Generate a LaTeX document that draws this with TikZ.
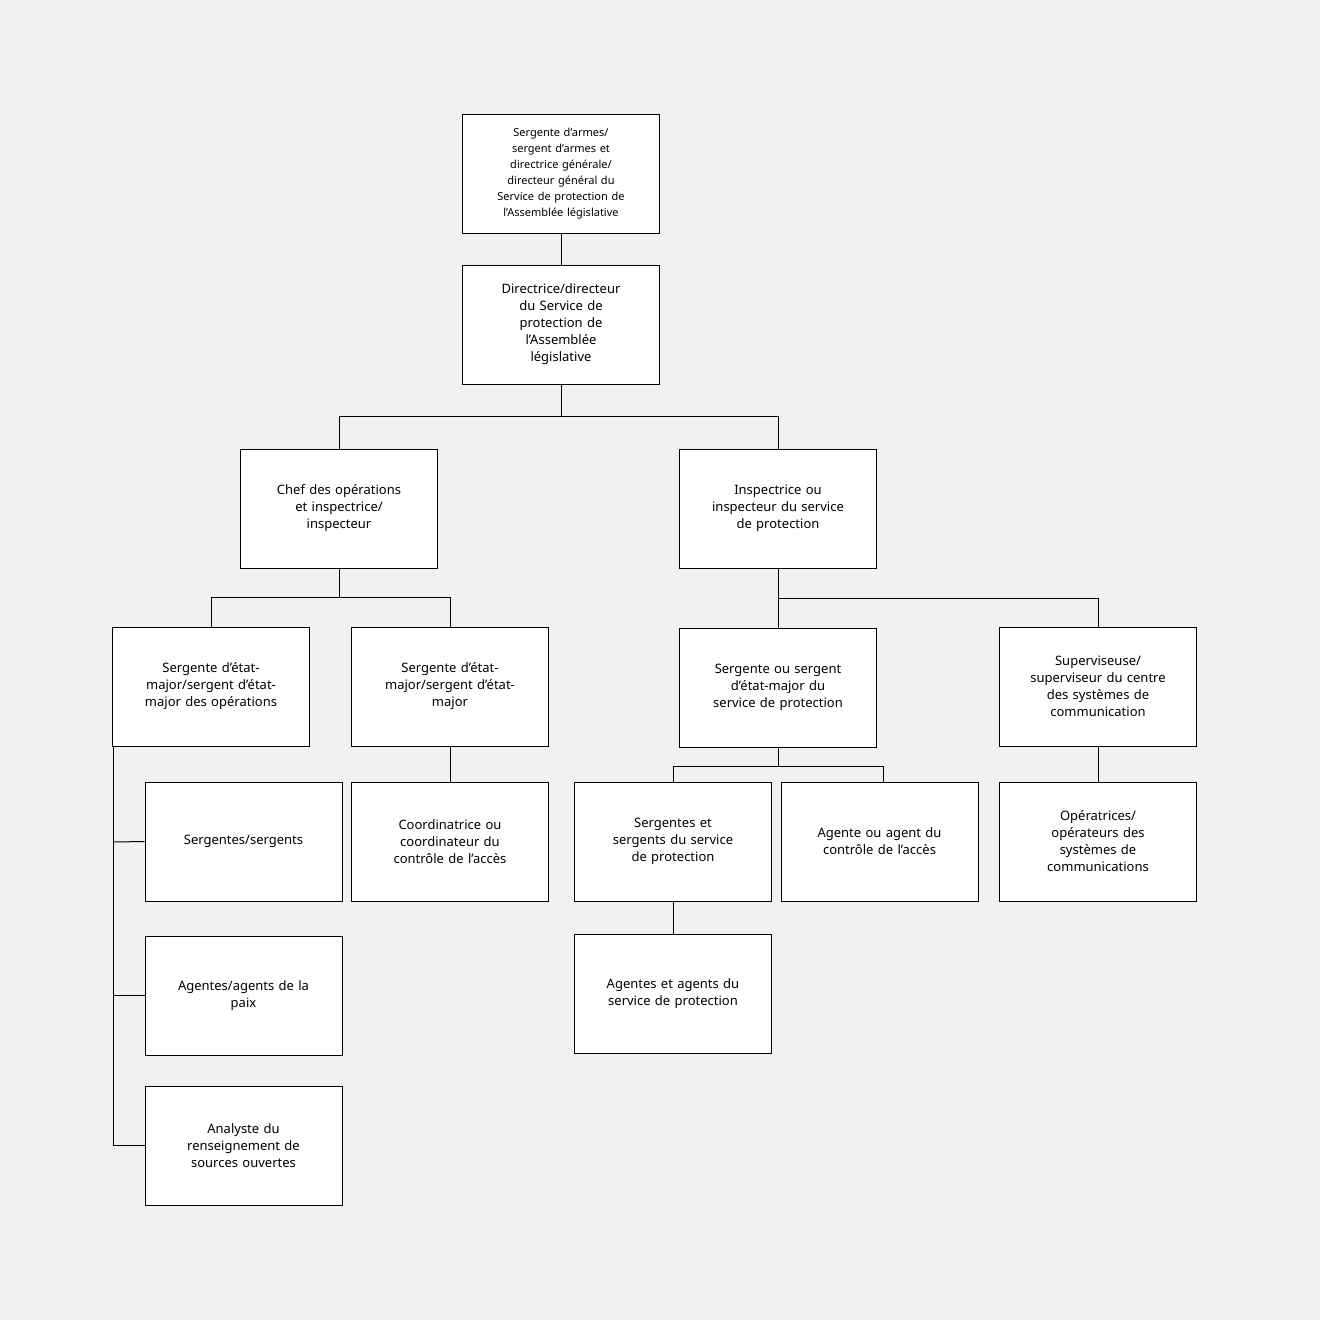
\documentclass[tikz,border=0pt]{standalone}
\usepackage{fontspec}
\setmainfont{Noto Sans}
\begin{document}
\begin{tikzpicture}[x=1pt,y=-1pt,
box/.style={draw=black,fill=white,line width=1pt,minimum width=197pt,minimum height=119pt,inner sep=0pt,align=center,text width=150pt,font=\fontsize{13}{17}\selectfont},
ln/.style={draw=black,line width=1pt}]
\fill[fill={rgb,255:red,241;green,241;blue,241}] (0,0) rectangle (1320,1320);
\node[box,text width=140pt,font=\fontsize{11}{16}\selectfont] (A) at (561,173.5) {Sergente d’armes/\\sergent d’armes et\\directrice générale/\\directeur général du\\Service de protection de\\l’Assemblée législative};
\node[box,text width=135pt] (B) at (561,324.5) {Directrice/directeur\\du Service de\\protection de\\l’Assemblée\\législative};
\node[box] (C) at (339,508.5) {Chef des opérations\\et inspectrice/\\inspecteur};
\node[box] (D) at (778,508.5) {Inspectrice ou\\inspecteur du service\\de protection};
\node[box] (E) at (211,686.5) {Sergente d’état-\\major/sergent d’état-\\major des opérations};
\node[box] (F) at (450,686.5) {Sergente d’état-\\major/sergent d’état-\\major};
\node[box] (G) at (778,687.5) {Sergente ou sergent\\d’état-major du\\service de protection};
\node[box] (H) at (1098,686.5) {Superviseuse/\\superviseur du centre\\des systèmes de\\communication};
\node[box] (I) at (243.5,841.5) {Sergentes/sergents};
\node[box] (J) at (450,841.5) {Coordinatrice ou\\coordinateur du\\contrôle de l’accès};
\node[box] (K) at (673,841.5) {Sergentes et\\sergents du service\\de protection};
\node[box] (L) at (879.5,841.5) {Agente ou agent du\\contrôle de l’accès};
\node[box] (M) at (1098,841.5) {Opératrices/\\opérateurs des\\systèmes de\\communications};
\node[box] (N) at (243.5,995.5) {Agentes/agents de la\\paix};
\node[box] (O) at (673,993.5) {Agentes et agents du\\service de protection};
\node[box] (P) at (243.5,1145.5) {Analyste du\\renseignement de\\sources ouvertes};
\draw[ln] (A.south) -- (B.north);
\draw[ln] (B.south) -- (561,416) -| (C.north);
\draw[ln] (561,416) -| (D.north);
\draw[ln] (C.south) -- (339,597) -| (E.north);
\draw[ln] (339,597) -| (F.north);
\draw[ln] (D.south) -- (778,598) -| (H.north);
\draw[ln] (778,598) -- (G.north);
\draw[ln] (113,746) |- (P.west);
\draw[ln] (113,842) -- (I.west);
\draw[ln] (113,995.5) -- (N.west);
\draw[ln] (F.south) -- (J.north);
\draw[ln] (G.south) -- (778,766) -| (K.north);
\draw[ln] (778,766) -| (883,782);
\draw[ln] (K.south) -- (O.north);
\draw[ln] (H.south) -- (M.north);
\end{tikzpicture}
\end{document}
